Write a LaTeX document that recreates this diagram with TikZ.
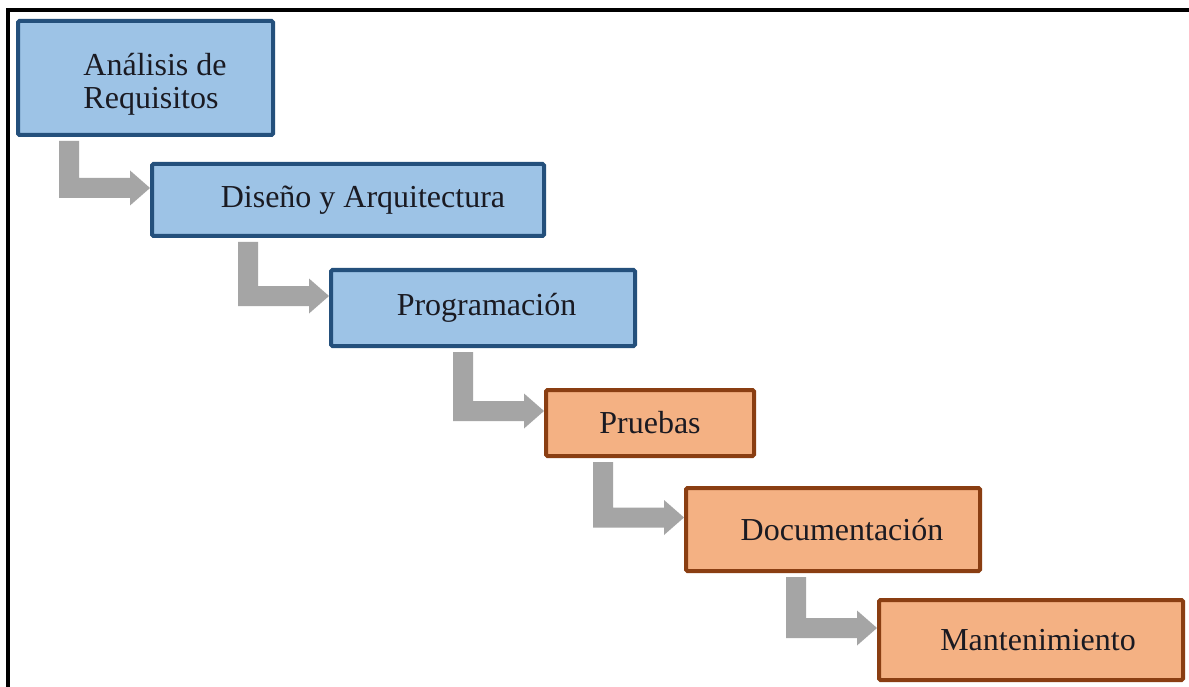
\documentclass[tikz,border=0pt]{standalone}
\usepackage{fontspec}
\setmainfont{Liberation Serif}
\usetikzlibrary{calc}
\definecolor{bluefill}{HTML}{9DC3E6}
\definecolor{blueline}{HTML}{24507C}
\definecolor{orangefill}{HTML}{F4B183}
\definecolor{orangeline}{HTML}{8A3E12}
\definecolor{arrowgray}{HTML}{A5A5A5}
\definecolor{textdark}{HTML}{1A1A22}
\tikzset{
  phasefont/.style={text=textdark, font=\fontsize{32}{33}\selectfont},
  phase/.style={draw, line width=4pt, rounded corners=1.5pt, inner sep=0pt, phasefont},
  bluephase/.style={phase, fill=bluefill, draw=blueline},
  orangephase/.style={phase, fill=orangefill, draw=orangeline},
  frameline/.style={line width=4pt, black},
}
% pushes a label to the right of the box centre by half of #1
\newcommand\pad[1]{\hspace*{#1}}
% bent arrow from the bottom of box #1 into the left side of box #2
\newcommand\stairarrow[2]{%
  \fill[arrowgray] let \p1=(#1.south), \p2=(#2.west) in
    (\x2-91pt,\y1-4pt) -- (\x2-71pt,\y1-4pt) -- (\x2-71pt,\y2+22pt)
    -- (\x2-20pt,\y2+22pt) -- (\x2-20pt,\y2+29.5pt) -- (\x2,\y2+12pt)
    -- (\x2-20pt,\y2-5.5pt) -- (\x2-20pt,\y2+2pt) -- (\x2-91pt,\y2+2pt) -- cycle;}
\begin{document}
\begin{tikzpicture}[x=1pt,y=-1pt]
\useasboundingbox (0,0) rectangle (1189,687);
\fill[white] (0,0) rectangle (1189,687);
% frame on the top and left sides
\draw[frameline] (8,687) -- (8,10) -- (1189,10);

\node[bluephase, minimum width=255pt, minimum height=114pt] (req) at (145.5,78) {};
\node[phasefont, align=left, inner sep=0pt] (reqtext) at (155,84)
  {An\'alisis de\\Requisitos};
\node[bluephase, minimum width=392pt, minimum height=72pt] (dis) at (348,200)
  {\pad{30pt}Dise\~no y Arquitectura};
\node[bluephase, minimum width=304pt, minimum height=76pt] (prog) at (483,308)
  {\pad{7pt}Programaci\'on};
\node[orangephase, minimum width=208pt, minimum height=66pt] (pru) at (650,423)
  {Pruebas};
\node[orangephase, minimum width=294pt, minimum height=83pt] (doc) at (833,529.5)
  {\pad{18pt}Documentaci\'on};
\node[orangephase, minimum width=304pt, minimum height=80pt] (man) at (1031,640)
  {\pad{14pt}Mantenimiento};

\stairarrow{req}{dis}
\stairarrow{dis}{prog}
\stairarrow{prog}{pru}
\stairarrow{pru}{doc}
\stairarrow{doc}{man}
\end{tikzpicture}
\end{document}
